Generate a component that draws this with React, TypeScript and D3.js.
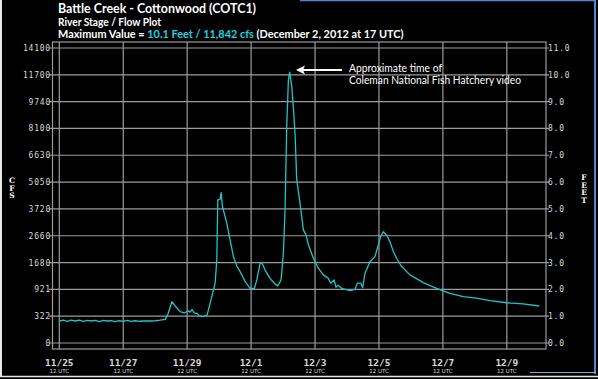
import React from "react";
import * as d3 from "d3";

// hours since 11/25 12 UTC
const hours = [0,3,6,9,12,15,18,21,24,27,30,33,36,39,42,45,48,51,54,57,60,64.5,68.25,72,75.75,79.5,81.75,84.5,87,90.75,93.75,97,98.25,99.75,101.25,103.5,105,107,108.75,111,114.5,117,118.25,119,120.75,121.5,122.5,125.75,128.25,130.75,133.25,135.75,139.5,143.25,146.5,148.25,150.75,152,154.5,158.25,162,164,166.5,168.25,169.5,170.75,172,173,174.5,176,177,178.25,180.75,183.25,185.25,187,190.75,194.5,198.25,202,203.75,206.25,207.75,209.25,212,218.25,222,223.75,226.5,227.75,229.5,233.25,237,239.5,241.25,243.25,245.75,248.25,250.75,253.25,257,263.25,273.25,283.25,293.25,303.25,313.25,323.25,335.75,348.25,360.25];
const stageFt = [0.82,0.85,0.81,0.85,0.82,0.85,0.81,0.84,0.82,0.84,0.8,0.84,0.82,0.83,0.8,0.83,0.81,0.84,0.81,0.83,0.81,0.82,0.82,0.83,0.85,0.88,1.1,1.54,1.38,1.17,1.12,1.2,1.15,1.25,1.12,1.1,1.02,0.98,1.0,1.05,1.73,2.23,3.1,5.34,5.36,5.61,5.09,4.47,3.84,3.22,2.87,2.66,2.29,2.04,2.04,2.35,2.97,3.0,2.72,2.41,2.2,2.13,2.35,3.35,4.97,8.07,9.81,10.1,9.57,8.6,7.8,6.1,5.2,4.22,4.03,3.66,3.16,2.79,2.54,2.41,2.23,2.35,2.08,2.15,2.04,1.95,2.0,2.23,2.23,2.06,2.6,3.03,3.22,3.66,3.97,4.15,4.03,3.78,3.41,3.16,2.85,2.54,2.25,2.04,1.85,1.73,1.67,1.58,1.5,1.46,1.38];

const feetTicks = [0,1,2,3,4,5,6,7,8,9,10,11];
const cfsLabels = ["0","322","921","1680","2660","3720","5050","6630","8100","9740","11700","14100"];
const feetLabels = ["0.0","1.0","2.0","3.0","4.0","5.0","6.0","7.0","8.0","9.0","10.0","11.0"];
const dateHours = [0,48,96,144,192,240,288,336];
const dateLabels = ["11/25","11/27","11/29","12/1","12/3","12/5","12/7","12/9"];

const W = 598, H = 379;
const LINE = "#22c4c8";
const CYAN_TXT = "#1ed2e2";
const GRID = "#9c9c9c";
const TXT = "#d8d8d8";

export default function App() {
  const x = d3.scaleLinear().domain([-5.1, 365.4]).range([52.5, 546]);
  const y = d3.scaleLinear().domain([-0.224, 11.224]).range([349, 42]);
  const line = d3.line<number>().x((_, i) => x(hours[i])).y((v) => y(v));
  const path = line(stageFt) || "";
  const titleFont = "Lato, 'Open Sans', sans-serif";
  const mono = "'DejaVu Sans Mono', monospace";

  return (
    <svg width={W} height={H} style={{ position: "absolute", left: 0, top: 0, background: "#000" }}>
      <rect x={0} y={0} width={W} height={H} fill="#000" />
      {/* window borders */}
      <line x1={1} y1={0} x2={1} y2={376} stroke="#e8e8e8" strokeWidth={2} />
      <line x1={300} y1={0.5} x2={596} y2={0.5} stroke="#4f86d6" strokeWidth={1.5} />
      <line x1={595} y1={0} x2={595} y2={374} stroke="#4f86d6" strokeWidth={2} />
      <line x1={0} y1={376.5} x2={598} y2={376.5} stroke="#e8e8e8" strokeWidth={1.5} />
      <line x1={530} y1={372.5} x2={596} y2={372.5} stroke="#9aa6c0" strokeWidth={1} />

      {/* titles */}
      <text x={58} y={13} fill="#fff" fontFamily={titleFont} fontWeight="bold" fontSize={14} textLength={198} lengthAdjust="spacingAndGlyphs">Battle Creek - Cottonwood (COTC1)</text>
      <text x={58} y={26} fill="#fff" fontFamily={titleFont} fontWeight="bold" fontSize={10.8} textLength={103} lengthAdjust="spacingAndGlyphs">River Stage / Flow Plot</text>
      <text x={58} y={37.5} fill="#fff" fontFamily={titleFont} fontWeight="bold" fontSize={10.9}>
        <tspan>Maximum Value = </tspan>
        <tspan fill={CYAN_TXT}>10.1 Feet / 11,842 cfs</tspan>
        <tspan> (December 2, 2012 at 17 UTC)</tspan>
      </text>

      {/* grid */}
      {feetTicks.map((f) => (
        <line key={"h" + f} x1={49} x2={549} y1={y(f)} y2={y(f)} stroke={GRID} strokeWidth={1.2} />
      ))}
      {dateHours.map((h) => (
        <line key={"v" + h} x1={x(h)} x2={x(h)} y1={42} y2={349} stroke={GRID} strokeWidth={1.2} />
      ))}
      <rect x={52.5} y={42} width={493.5} height={307} fill="none" stroke={GRID} strokeWidth={1.2} />

      {/* left labels */}
      {feetTicks.map((f, i) => (
        <text key={"l" + f} x={51} y={y(f) + 3} textAnchor="end" fill={TXT} fontFamily={mono} fontSize={8} letterSpacing={0.8}>{cfsLabels[i]}</text>
      ))}
      {feetTicks.map((f, i) => (
        <text key={"r" + f} x={548} y={y(f) + 3} textAnchor="start" fill={TXT} fontFamily={mono} fontSize={8} letterSpacing={0.8}>{feetLabels[i]}</text>
      ))}

      {/* axis titles */}
      {["C", "F", "S"].map((c, i) => (
        <text key={"c" + i} x={12} y={183 + i * 7.5} textAnchor="middle" fill="#fff" fontFamily="'DejaVu Serif', serif" fontWeight="bold" fontSize={7.5}>{c}</text>
      ))}
      {["F", "E", "E", "T"].map((c, i) => (
        <text key={"f" + i} x={584} y={180 + i * 7.5} textAnchor="middle" fill="#fff" fontFamily="'DejaVu Serif', serif" fontWeight="bold" fontSize={7.5}>{c}</text>
      ))}

      {/* date labels */}
      {dateHours.map((h, i) => (
        <g key={"d" + h}>
          <text x={x(h)} y={366} textAnchor="middle" fill={TXT} fontFamily={mono} fontWeight="bold" fontSize={9.5}>{dateLabels[i]}</text>
          <text x={x(h)} y={372.5} textAnchor="middle" fill={TXT} fontFamily="'DejaVu Sans', sans-serif" fontSize={5.5}>12 UTC</text>
        </g>
      ))}

      {/* data */}
      <path d={path} fill="none" stroke={LINE} strokeWidth={1.3} strokeLinejoin="round" />

      {/* annotation */}
      <line x1={342} y1={70} x2={302} y2={70} stroke="#fff" strokeWidth={2} />
      <path d="M296,70 L305,65.5 L303,70 L305,74.5 Z" fill="#fff" />
      <text x={349} y={72} fill="#fff" fontFamily={titleFont} fontSize={10.8} textLength={93} lengthAdjust="spacingAndGlyphs">Approximate time of</text>
      <text x={349} y={83.5} fill="#fff" fontFamily={titleFont} fontSize={10.8} textLength={172} lengthAdjust="spacingAndGlyphs">Coleman National Fish Hatchery video</text>
    </svg>
  );
}
